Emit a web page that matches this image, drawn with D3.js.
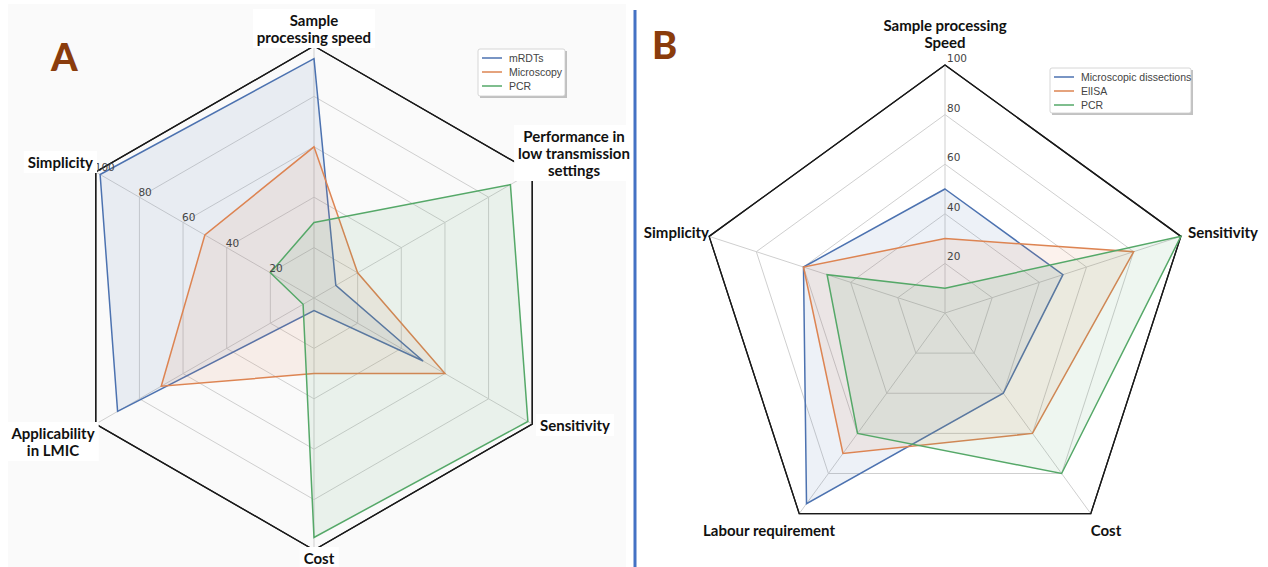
<!DOCTYPE html>
<html>
<head>
<meta charset="utf-8">
<script src="https://cdn.jsdelivr.net/npm/d3@7"></script>
<style>
  html, body { margin: 0; padding: 0; background: #ffffff; }
  svg { display: block; }
  .axis-label { font-family: Lato, "Open Sans", sans-serif; font-weight: 700; font-size: 15px; fill: #111; }
  .tick-label { font-family: "DejaVu Sans", sans-serif; font-size: 10.5px; fill: #444; }
  .legend-text { font-family: "Liberation Sans", Arial, sans-serif; font-size: 10.5px; fill: #444; }
  .panel-letter { font-family: Lato, sans-serif; font-weight: 900; font-size: 38px; fill: #8a3c0c; }
</style>
</head>
<body>
<svg id="chart" width="1268" height="567"></svg>
<script>
// Panel A: malaria diagnostics
const axesA = [
  ["Sample", "processing speed"],
  ["Performance in", "low transmission", "settings"],
  ["Sensitivity"],
  ["Cost"],
  ["Applicability", "in LMIC"],
  ["Simplicity"]
];
const seriesA = ["mRDTs", "Microscopy", "PCR"];
const mrdtsValues = [95, 10, 50, 5, 90, 98];
const microscopyValues = [60, 20, 60, 30, 70, 50];
const pcrValuesA = [30, 90, 98, 95, 5, 20];

// Panel B: vector / parasite detection methods
const axesB = [
  ["Sample processing", "Speed"],
  ["Sensitivity"],
  ["Cost"],
  ["Labour requirement"],
  ["Simplicity"]
];
const seriesB = ["Microscopic dissections", "ElISA", "PCR"];
const dissectionValues = [50, 50, 40, 95, 60];
const elisaValues = [30, 80, 60, 70, 60];
const pcrValuesB = [10, 100, 80, 60, 50];

const gridTicks = [20, 40, 60, 80, 100];

const colors = ["#4c72b0", "#dd8452", "#55a868"];

const svg = d3.select("#chart");

// soft grey backdrop of the left panel
svg.append("rect")
  .attr("x", 8).attr("y", 4).attr("width", 618).attr("height", 563)
  .attr("fill", "#fafafa");

function drawRadar(cfg) {
  const g = svg.append("g");
  const n = cfg.axes.length;
  const r = d3.scaleLinear().domain([0, 100]).range([0, cfg.radius]);
  const angle = i => i * 2 * Math.PI / n;
  const pt = (i, v) => [cfg.cx + r(v) * Math.sin(angle(i)), cfg.cy - r(v) * Math.cos(angle(i))];
  const line = d3.line();
  const idx = d3.range(n);

  // grid rings
  cfg.ticks.forEach(t => {
    g.append("path")
      .attr("d", line(idx.map(i => pt(i, t))) + "Z")
      .attr("fill", "none")
      .attr("stroke", t === 100 ? "#1a1a1a" : "#cfcfcf")
      .attr("stroke-width", t === 100 ? 1.3 : 1);
  });
  // spokes
  idx.forEach(i => {
    const [x, y] = pt(i, 100);
    g.append("line")
      .attr("x1", cfg.cx).attr("y1", cfg.cy).attr("x2", x).attr("y2", y)
      .attr("stroke", "#cfcfcf").attr("stroke-width", 1);
  });
  // outer frame drawn again on top of spokes
  g.append("path")
    .attr("d", line(idx.map(i => pt(i, 100))) + "Z")
    .attr("fill", "none").attr("stroke", "#1a1a1a").attr("stroke-width", 1.3);

  // series
  cfg.series.forEach((vals, s) => {
    const d = line(vals.map((v, i) => pt(i, v))) + "Z";
    g.append("path").attr("d", d)
      .attr("fill", colors[s]).attr("fill-opacity", 0.1)
      .attr("stroke", colors[s]).attr("stroke-width", 1.5)
      .attr("stroke-linejoin", "miter");
  });

  // radial tick labels along one axis
  cfg.ticks.forEach(t => {
    const [x, y] = pt(cfg.tickAxis, t);
    g.append("text").attr("class", "tick-label")
      .attr("x", x + cfg.tickDx).attr("y", y + cfg.tickDy)
      .text(t);
  });

  // axis labels
  cfg.axes.forEach((lines, i) => {
    const p = cfg.labelPos[i];
    const txt = g.append("text").attr("class", "axis-label")
      .attr("text-anchor", p.anchor);
    lines.forEach((l, k) => {
      txt.append("tspan").attr("x", p.x).attr("y", p.y + k * 17).text(l);
    });
    if (cfg.labelBoxes) {
      const bb = txt.node().getBBox();
      g.insert("rect", () => txt.node())
        .attr("x", bb.x - 4).attr("y", bb.y - 2)
        .attr("width", bb.width + 8).attr("height", bb.height + 4)
        .attr("fill", "#ffffff");
    }
  });

  // legend
  const L = cfg.legend;
  const lg = svg.append("g");
  lg.append("rect")
    .attr("x", L.x + 2).attr("y", L.y + 2).attr("width", L.w).attr("height", L.h)
    .attr("fill", "#9a9a9a").attr("opacity", 0.6);
  lg.append("rect")
    .attr("x", L.x).attr("y", L.y).attr("width", L.w).attr("height", L.h)
    .attr("fill", "#ffffff").attr("stroke", "#cccccc").attr("stroke-width", 0.8).attr("rx", 2);
  cfg.names.forEach((name, s) => {
    const yy = L.y + 9 + s * 14;
    lg.append("line")
      .attr("x1", L.x + 4).attr("x2", L.x + 24).attr("y1", yy).attr("y2", yy)
      .attr("stroke", colors[s]).attr("stroke-width", 1.5);
    lg.append("text").attr("class", "legend-text")
      .attr("x", L.x + 31).attr("y", yy + 4).text(name);
  });
}

drawRadar({
  cx: 314, cy: 298, radius: 252,
  axes: axesA,
  series: [mrdtsValues, microscopyValues, pcrValuesA],
  names: seriesA,
  ticks: gridTicks,
  tickAxis: 5, tickDx: -1, tickDy: -1,
  labelBoxes: true,
  labelPos: [
    { x: 314, y: 26, anchor: "middle" },
    { x: 574, y: 142, anchor: "middle" },
    { x: 540, y: 431, anchor: "start" },
    { x: 319, y: 564, anchor: "middle" },
    { x: 53, y: 439, anchor: "middle" },
    { x: 93, y: 168, anchor: "end" }
  ],
  legend: { x: 478, y: 49, w: 87, h: 47 }
});

drawRadar({
  cx: 945, cy: 313, radius: 248,
  axes: axesB,
  series: [dissectionValues, elisaValues, pcrValuesB],
  names: seriesB,
  ticks: gridTicks,
  tickAxis: 0, tickDx: 2, tickDy: -3,
  labelBoxes: false,
  labelPos: [
    { x: 945, y: 31, anchor: "middle" },
    { x: 1188, y: 238, anchor: "start" },
    { x: 1106, y: 536, anchor: "middle" },
    { x: 769, y: 536, anchor: "middle" },
    { x: 709, y: 238, anchor: "end" }
  ],
  legend: { x: 1050, y: 68, w: 141, h: 45 }
});

// white strip and divider between the two panels, drawn on top
svg.append("rect")
  .attr("x", 632).attr("y", 0).attr("width", 10).attr("height", 567)
  .attr("fill", "#ffffff");
svg.append("line")
  .attr("x1", 635).attr("x2", 635).attr("y1", 10).attr("y2", 567)
  .attr("stroke", "#4472c4").attr("stroke-width", 3);

// panel letters
svg.append("text").attr("class", "panel-letter").attr("x", 51).attr("y", 71).text("A");
svg.append("text").attr("class", "panel-letter").attr("x", 652).attr("y", 59).text("B");
</script>
</body>
</html>
